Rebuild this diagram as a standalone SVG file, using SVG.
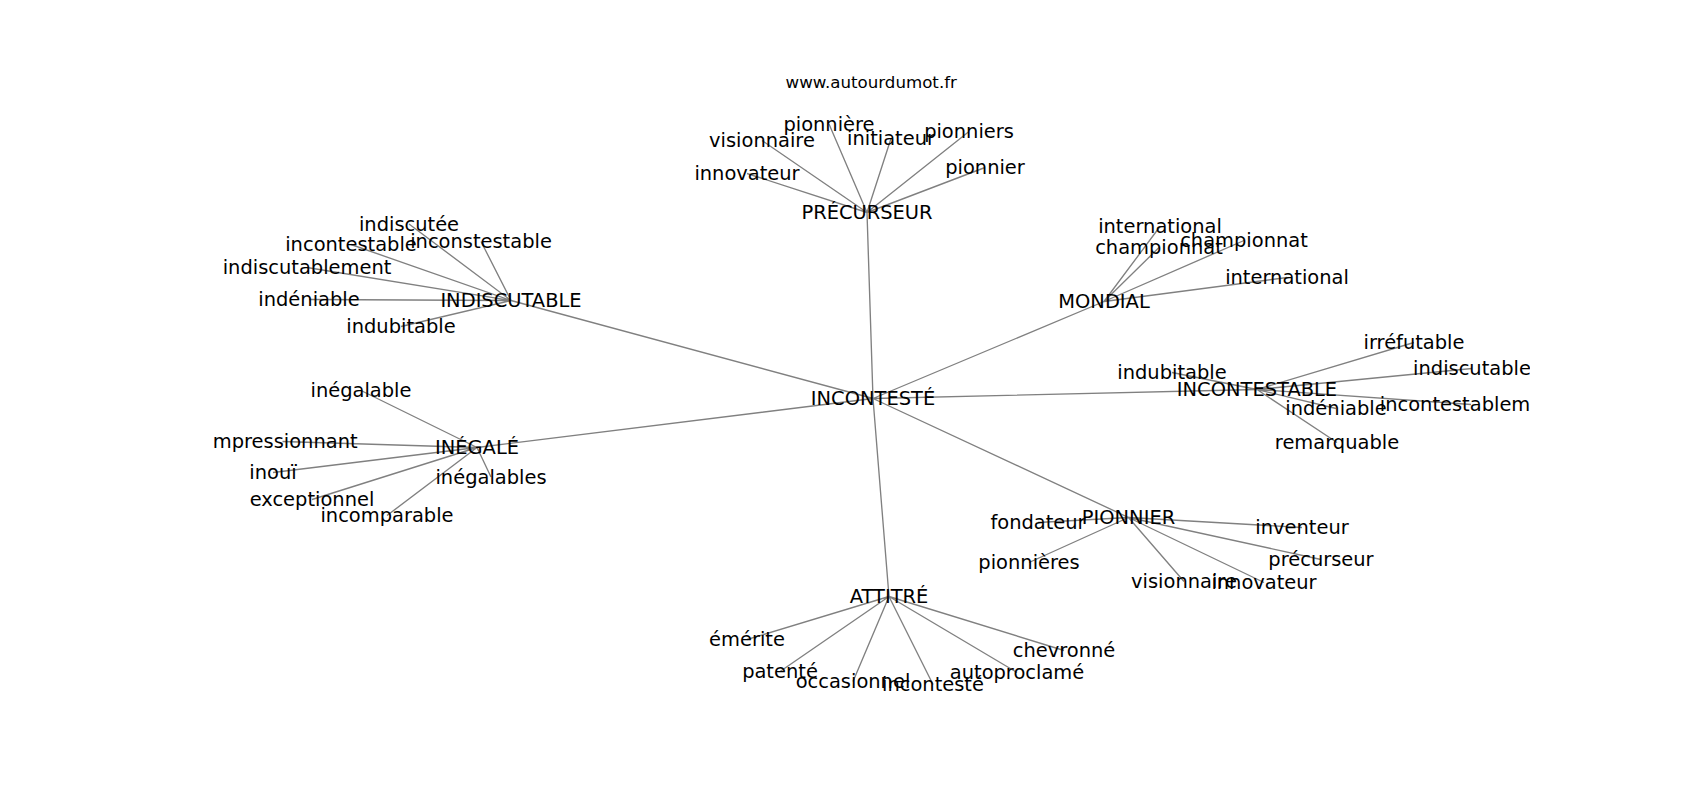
<svg xmlns="http://www.w3.org/2000/svg" width="1700" height="800" viewBox="0 0 1700 800">
<style>
.e{stroke:#808080;stroke-width:1.35;fill:none}
.t{font-family:"DejaVu Sans","Liberation Sans",sans-serif;font-size:19.44px;text-anchor:middle;fill:#000}
.title{font-family:"DejaVu Sans","Liberation Sans",sans-serif;font-size:16.67px;text-anchor:middle;fill:#000}
</style>
<defs><clipPath id="ax"><rect x="212.5" y="96" width="1317.5" height="616"/></clipPath></defs>
<rect width="1700" height="800" fill="#fff"/>
<text class="title" x="871.25" y="88">www.autourdumot.fr</text>
<g id="connectors" clip-path="url(#ax)">
<path class="e" d="M873 398.5L867 212.5M873 398.5L511 300.5M873 398.5L1104 301.5M873 398.5L1257 389.5M873 398.5L477 447.5M873 398.5L1128.5 517.5M873 398.5L889 596.5"/>
<path class="e" d="M867 212.5L829 124M867 212.5L762 140.5M867 212.5L891 138.5M867 212.5L969 131.5M867 212.5L985 167.5M867 212.5L747 173.5"/>
<path class="e" d="M511 300.5L409 224M511 300.5L351 244.5M511 300.5L481 241.5M511 300.5L307 267.5M511 300.5L309 299.5M511 300.5L401 326.5"/>
<path class="e" d="M1104 301.5L1160 226.5M1104 301.5L1159 247.5M1104 301.5L1244 240.5M1104 301.5L1287 277.5"/>
<path class="e" d="M1257 389.5L1172 372.5M1257 389.5L1414 342.5M1257 389.5L1472 368.5M1257 389.5L1471 404.5M1257 389.5L1336 408.5M1257 389.5L1337 442.5"/>
<path class="e" d="M477 447.5L361 390.5M477 447.5L282.5 441.5M477 447.5L273 472.5M477 447.5L491 477M477 447.5L312 499.5M477 447.5L387 515.5"/>
<path class="e" d="M1128.5 517.5L1038 522.5M1128.5 517.5L1029 562.5M1128.5 517.5L1184 581.5M1128.5 517.5L1264 582.5M1128.5 517.5L1302 527.5M1128.5 517.5L1321 559.5"/>
<path class="e" d="M889 596.5L747 639.5M889 596.5L780 671.5M889 596.5L853 681.5M889 596.5L933 684.5M889 596.5L1017 672.5M889 596.5L1064 650.5"/>
</g>
<g id="labels" clip-path="url(#ax)">
<g transform="translate(0,1)">
<g id="n-inconteste-hub"><text class="t" x="873" y="404">INCONTESTÉ</text></g>
<g id="n-precurseur"><text class="t" x="867" y="218">PRÉCURSEUR</text></g>
<g id="n-pionniere"><text class="t" x="829" y="129.5">pionnière</text></g>
<g id="n-visionnaire1"><text class="t" x="762" y="146">visionnaire</text></g>
<g id="n-initiateur"><text class="t" x="891" y="144">initiateur</text></g>
<g id="n-pionniers"><text class="t" x="969" y="137">pionniers</text></g>
<g id="n-pionnier"><text class="t" x="985" y="173">pionnier</text></g>
<g id="n-innovateur1"><text class="t" x="747" y="179">innovateur</text></g>
<g id="n-indiscutable-hub"><text class="t" x="511" y="306">INDISCUTABLE</text></g>
<g id="n-indiscutee"><text class="t" x="409" y="229.5">indiscutée</text></g>
<g id="n-incontestable1"><text class="t" x="351" y="250">incontestable</text></g>
<g id="n-inconstestable"><text class="t" x="481" y="247">inconstestable</text></g>
<g id="n-indiscutablement"><text class="t" x="307" y="273">indiscutablement</text></g>
<g id="n-indeniable1"><text class="t" x="309" y="305">indéniable</text></g>
<g id="n-indubitable1"><text class="t" x="401" y="332">indubitable</text></g>
<g id="n-mondial"><text class="t" x="1104" y="307">MONDIAL</text></g>
<g id="n-international1"><text class="t" x="1160" y="232">international</text></g>
<g id="n-championnat1"><text class="t" x="1159" y="253">championnat</text></g>
<g id="n-championnat2"><text class="t" x="1244" y="246">championnat</text></g>
<g id="n-international2"><text class="t" x="1287" y="283">international</text></g>
<g id="n-incontestable-hub"><text class="t" x="1257" y="395">INCONTESTABLE</text></g>
<g id="n-indubitable2"><text class="t" x="1172" y="378">indubitable</text></g>
<g id="n-irrefutable"><text class="t" x="1414" y="348">irréfutable</text></g>
<g id="n-indiscutable"><text class="t" x="1472" y="374">indiscutable</text></g>
<g id="n-incontestablement"><text class="t" x="1471" y="410">incontestablement</text></g>
<g id="n-indeniable2"><text class="t" x="1336" y="414">indéniable</text></g>
<g id="n-remarquable"><text class="t" x="1337" y="448">remarquable</text></g>
<g id="n-inegale"><text class="t" x="477" y="453">INÉGALÉ</text></g>
<g id="n-inegalable"><text class="t" x="361" y="396">inégalable</text></g>
<g id="n-impressionnant"><text class="t" x="282.5" y="447">impressionnant</text></g>
<g id="n-inoui"><text class="t" x="273" y="478">inouï</text></g>
<g id="n-inegalables"><text class="t" x="491" y="482.5">inégalables</text></g>
<g id="n-exceptionnel"><text class="t" x="312" y="505">exceptionnel</text></g>
<g id="n-incomparable"><text class="t" x="387" y="521">incomparable</text></g>
<g id="n-pionnier-hub"><text class="t" x="1128.5" y="523">PIONNIER</text></g>
<g id="n-fondateur"><text class="t" x="1038" y="528">fondateur</text></g>
<g id="n-pionnieres"><text class="t" x="1029" y="568">pionnières</text></g>
<g id="n-visionnaire2"><text class="t" x="1184" y="587">visionnaire</text></g>
<g id="n-innovateur2"><text class="t" x="1264" y="588">innovateur</text></g>
<g id="n-inventeur"><text class="t" x="1302" y="533">inventeur</text></g>
<g id="n-precurseur2"><text class="t" x="1321" y="565">précurseur</text></g>
<g id="n-attitre"><text class="t" x="889" y="602">ATTITRÉ</text></g>
<g id="n-emerite"><text class="t" x="747" y="645">émérite</text></g>
<g id="n-patente"><text class="t" x="780" y="677">patenté</text></g>
<g id="n-occasionnel"><text class="t" x="853" y="687">occasionnel</text></g>
<g id="n-inconteste"><text class="t" x="933" y="690">incontesté</text></g>
<g id="n-autoproclame"><text class="t" x="1017" y="678">autoproclamé</text></g>
<g id="n-chevronne"><text class="t" x="1064" y="656">chevronné</text></g>
</g>
</g>
</svg>
